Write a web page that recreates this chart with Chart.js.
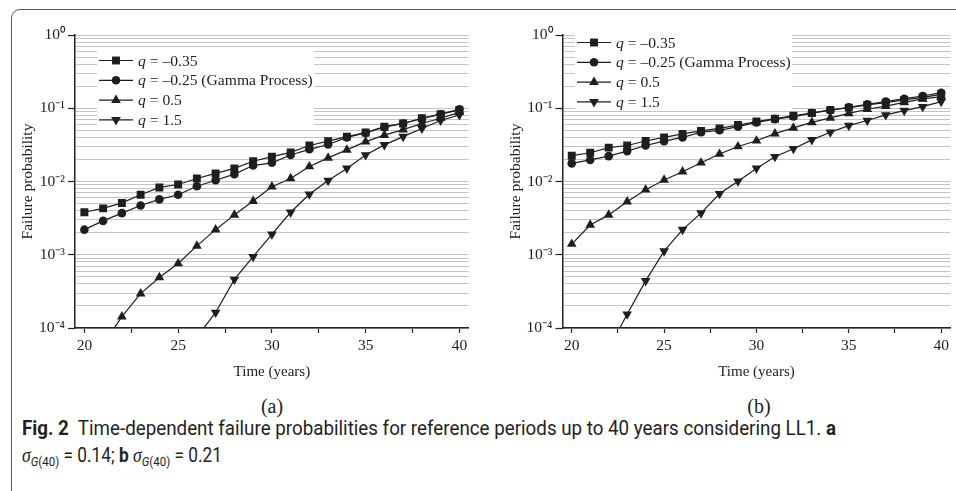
<!DOCTYPE html>
<html>
<head>
<meta charset="utf-8">
<script src="https://cdn.jsdelivr.net/npm/chart.js@4.4.1/dist/chart.umd.min.js"></script>
<style>
  html, body { margin: 0; padding: 0; background: #fff; }
  body { width: 956px; height: 491px; position: relative; overflow: hidden; }
  #frame { position: absolute; left: 11px; top: 9px; width: 1000px; height: 600px;
           border: 1.5px solid #5a5a5a; border-radius: 9px 0 0 0; }
  canvas { position: absolute; top: 0; }
  #chartA { left: 0; }
  #chartB { left: 478px; }
  .panel { position: absolute; top: 395px; width: 60px; margin-left: -30px; text-align: center;
           font: 20px "Liberation Serif", serif; color: #222; }
  .cap { position: absolute; left: 22px; font-size: 19.5px; line-height: 27px; color: #231f20;
         font-family: "Roboto", sans-serif; white-space: nowrap; transform-origin: 0 50%; }
  .cap i.m { font-family: "Liberation Serif", serif; font-size: 20px; }
  .cap sub { font-size: 13px; vertical-align: -4px; line-height: 0; }
</style>
</head>
<body>
<div id="frame"></div>
<canvas id="chartA" width="478" height="390"></canvas>
<canvas id="chartB" width="478" height="390"></canvas>
<div class="panel" style="left:272px">(a)</div>
<div class="panel" style="left:759px">(b)</div>
<div class="cap" id="cap1" style="top:415px"><b>Fig. 2</b>&nbsp; Time-dependent failure probabilities for reference periods up to 40 years considering LL1. <b>a</b></div>
<div class="cap" id="cap2" style="top:442px"><i class="m">σ</i><sub><i>G</i>(40)</sub> = 0.14; <b>b</b> <i class="m">σ</i><sub><i>G</i>(40)</sub> = 0.21</div>
<script>
const years = [20, 21, 22, 23, 24, 25, 26, 27, 28, 29, 30, 31, 32, 33, 34, 35, 36, 37, 38, 39, 40]
const qNames = ['–0.35', '–0.25 (Gamma Process)', '0.5', '1.5']

// (a) sigma G(40) = 0.14
const pfA_m035 = [0.0038, 0.0043, 0.0051, 0.0066, 0.0083, 0.0091, 0.011, 0.0129, 0.0151, 0.0189, 0.0218, 0.025, 0.031, 0.0355, 0.041, 0.0466, 0.056, 0.062, 0.073, 0.083, 0.095]
const pfA_m025 = [0.0022, 0.0029, 0.0037, 0.0047, 0.0057, 0.0066, 0.0086, 0.0104, 0.0126, 0.0165, 0.018, 0.023, 0.0275, 0.032, 0.04, 0.046, 0.055, 0.062, 0.072, 0.083, 0.097]
const pfA_p05 = [null, 0.000059, 0.000143, 0.000295, 0.00049, 0.00076, 0.00132, 0.0022, 0.0035, 0.0054, 0.0085, 0.011, 0.016, 0.021, 0.027, 0.035, 0.043, 0.051, 0.062, 0.073, 0.088]
const pfA_p15 = [null, null, null, null, null, null, 0.000075, 0.000163, 0.00046, 0.00094, 0.0019, 0.0038, 0.0067, 0.0103, 0.0151, 0.023, 0.0316, 0.041, 0.053, 0.068, 0.081]

// (b) sigma G(40) = 0.21
const pfB_m035 = [0.0225, 0.0247, 0.029, 0.031, 0.0357, 0.04, 0.0446, 0.049, 0.053, 0.059, 0.066, 0.072, 0.079, 0.086, 0.095, 0.102, 0.111, 0.119, 0.13, 0.141, 0.155]
const pfB_m025 = [0.0177, 0.0197, 0.0222, 0.026, 0.031, 0.0355, 0.04, 0.047, 0.05, 0.056, 0.064, 0.071, 0.077, 0.086, 0.094, 0.103, 0.113, 0.123, 0.135, 0.147, 0.163]
const pfB_p05 = [0.0014, 0.00255, 0.0035, 0.0053, 0.0077, 0.0105, 0.0136, 0.018, 0.0237, 0.03, 0.036, 0.045, 0.054, 0.064, 0.074, 0.085, 0.097, 0.107, 0.12, 0.134, 0.144]
const pfB_p15 = [null, null, 0.000052, 0.000154, 0.00044, 0.00112, 0.0022, 0.0037, 0.0068, 0.0101, 0.0151, 0.0218, 0.028, 0.037, 0.047, 0.058, 0.068, 0.081, 0.093, 0.105, 0.123]

const yDecades = [0.0001, 0.001, 0.01, 0.1, 1]
const yDecadeLabels = ['10⁻⁴', '10⁻³', '10⁻²', '10⁻¹', '10⁰']
const xTickValues = [20, 22.5, 25, 27.5, 30, 32.5, 35, 37.5, 40]

const ink = '#1e1e1e'
const serif = 'Liberation Serif'

/* marcadores de cada serie */
const marks = [
    {pointStyle: 'rect', pointRadius: 5.6, pointRotation: 0},
    {pointStyle: 'circle', pointRadius: 4.3, pointRotation: 0},
    {pointStyle: 'triangle', pointRadius: 5.6, pointRotation: 0},
    {pointStyle: 'triangle', pointRadius: 5.6, pointRotation: 180}
]

// leyenda con la q en cursiva
const qLegend = {
    id: 'qLegend',
    afterDraw(chart, args, o) {
        const ctx = chart.ctx
        ctx.save()
        ctx.fillStyle = '#fff'
        ctx.fillRect(o.x, o.y, o.w, o.h)
        chart.data.datasets.forEach((ds, i) => {
            const y = o.top + i * o.gap
            ctx.strokeStyle = ink
            ctx.fillStyle = ink
            ctx.lineWidth = 1.2
            ctx.beginPath()
            ctx.moveTo(o.x + 2, y)
            ctx.lineTo(o.x + 36, y)
            ctx.stroke()
            Chart.helpers.drawPoint(ctx, {
                pointStyle: ds.pointStyle, rotation: ds.pointRotation,
                radius: ds.pointRadius, borderWidth: 0
            }, o.x + 19, y)
            ctx.textBaseline = 'middle'
            ctx.textAlign = 'left'
            ctx.font = 'italic 15.6px "' + serif + '"'
            let tx = o.x + 41
            ctx.fillText('q', tx, y + 1)
            tx += ctx.measureText('q').width
            ctx.font = '15.6px "' + serif + '"'
            ctx.fillText(' = ' + qNames[i], tx, y + 1)
        })
        ctx.restore()
    }
}

function yTicks() {
    const t = []
    yDecades.forEach((d, i) => {
        const n = i === yDecades.length - 1 ? 1 : 9
        for (let s = 1; s <= n; s++) {
            t.push({value: s * d, major: s === 1, txt: s === 1 ? yDecadeLabels[i] : ''})
        }
    })
    return t
}

function grafico(id, series, lay) {
    const ctx = document.getElementById(id)
    const datasets = series.map((vals, i) => ({
        label: 'q = ' + qNames[i],
        data: years.map((yr, j) => ({x: yr, y: vals[j]})),
        borderColor: ink,
        backgroundColor: ink,
        borderWidth: 1.2,
        pointBorderWidth: 0,
        pointHoverRadius: marks[i].pointRadius,
        spanGaps: false,
        ...marks[i]
    }))

    return new Chart(ctx, {
        type: 'line',
        data: {datasets: datasets},
        plugins: [qLegend],
        options: {
            responsive: false,
            animation: false,
            events: [],
            layout: {padding: {top: 35, right: lay.right, left: 0, bottom: 0}},
            plugins: {
                legend: {display: false},
                tooltip: {enabled: false},
                qLegend: lay.legend
            },
            scales: {
                x: {
                    type: 'linear', min: 19.5, max: 40.5,
                    afterBuildTicks: s => { s.ticks = xTickValues.map(v => ({value: v})) },
                    afterFit: s => { s.height = 62 },
                    ticks: {
                        autoSkip: false, maxRotation: 0, padding: 4, color: '#222',
                        font: {family: serif, size: 15.5},
                        callback: v => v % 5 === 0 ? String(v) : ''
                    },
                    grid: {drawOnChartArea: false, tickLength: 5, tickColor: '#222', tickWidth: 1.2},
                    border: {color: '#222', width: 1.5},
                    title: {display: true, text: 'Time (years)', color: '#222',
                            font: {family: serif, size: 15}, padding: {top: 0, bottom: 9}}
                },
                y: {
                    type: 'logarithmic', min: 0.0001, max: 1,
                    afterBuildTicks: s => { s.ticks = yTicks() },
                    afterFit: s => { s.width = lay.yWidth },
                    ticks: {
                        autoSkip: false, padding: 3, color: '#222',
                        font: {family: serif, size: 15.5},
                        callback: (v, i, t) => t[i].txt
                    },
                    grid: {
                        color: '#c4c4c4', lineWidth: 1, tickLength: 7, tickWidth: 1.2,
                        tickColor: c => c.tick && c.tick.major ? '#222' : 'rgba(0,0,0,0)'
                    },
                    border: {color: '#222', width: 1.5},
                    title: {display: true, text: 'Failure probability', color: '#222',
                            font: {family: serif, size: 15.5}, padding: {top: lay.titlePad, bottom: 0}}
                }
            }
        }
    })
}

grafico('chartA', [pfA_m035, pfA_m025, pfA_p05, pfA_p15], {
    yWidth: 75, right: 9.25, titlePad: 19,
    legend: {x: 97, y: 47, w: 217, h: 81, top: 60.5, gap: 19.8}
})

grafico('chartB', [pfB_m035, pfB_m025, pfB_p05, pfB_p15], {
    yWidth: 84.5, right: 0, titlePad: 29,
    legend: {x: 97, y: 30, w: 217, h: 80, top: 42.5, gap: 19.8}
})

// el pie de figura se estrecha para ocupar el mismo ancho que el original
const cap1 = document.getElementById('cap1')
const cap2 = document.getElementById('cap2')
cap1.style.transform = 'scaleX(' + (814 / cap1.getBoundingClientRect().width) + ')'
cap2.style.transform = 'scaleX(' + (200 / cap2.getBoundingClientRect().width) + ')'
</script>
</body>
</html>
